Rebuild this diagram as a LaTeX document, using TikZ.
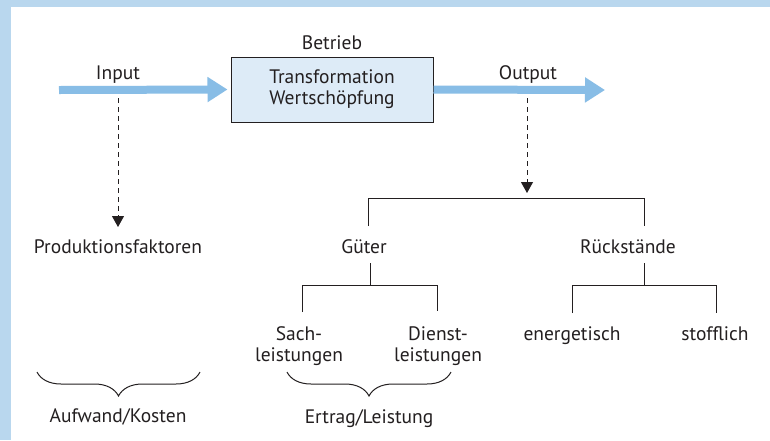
\documentclass[tikz,border=0pt]{standalone}
\usepackage{fontspec}
\setmainfont{PT Sans}
\usetikzlibrary{arrows.meta,decorations.pathreplacing}
\definecolor{band}{HTML}{B9D7EE}
\definecolor{flow}{HTML}{88BDE6}
\definecolor{boxfill}{HTML}{DDEBF7}
\definecolor{ink}{HTML}{231F20}
\begin{document}
\begin{tikzpicture}[x=1pt,y=-1pt,
  lbl/.style={text=ink, font=\fontsize{19.5}{21}\selectfont, inner sep=0pt, align=center},
  procbox/.style={lbl, draw=ink, line width=1pt, fill=boxfill,
    minimum width=202pt, minimum height=65pt},
  flowarrow/.style={draw=flow, line width=8pt, -{Triangle[width=24pt,length=20pt]}},
  droparrow/.style={draw=ink, line width=1pt, dash pattern=on 5pt off 4pt,
    -{Triangle[width=12pt,length=11pt]}},
  tree/.style={draw=ink, line width=1pt},
  bracket/.style={draw=ink, line width=1pt,
    decorate, decoration={brace, mirror, amplitude=24pt}}]
\useasboundingbox (0,0) rectangle (770,440);
% page background with the light frame strips
\fill[white] (0,0) rectangle (770,440);
\fill[band] (0,0) rectangle (770,7);
\fill[band] (0,0) rectangle (11,440);

% production process
\node[procbox] (betrieb) at (332,89.5) {Transformation\\Wertschöpfung};
\node[lbl, anchor=base] (betriebtitel) at (332,49) {Betrieb};

% input / output flows
\coordinate (instart) at (59,90);
\coordinate (outend) at (605,90);
\draw[flowarrow, shorten >=3pt] (instart) -- (betrieb.west);
\draw[flowarrow] (betrieb.east) -- (outend);
\node[lbl, anchor=base] (input) at (118,79) {Input};
\node[lbl, anchor=base] (output) at (528,79) {Output};

% input side
\coordinate (indrop) at (118,98);
\coordinate (intip) at (118,227);
\draw[droparrow] (indrop) -- (intip);
\node[lbl, anchor=base] (prod) at (118,253) {Produktionsfaktoren};

% output side
\coordinate (outdrop) at (527,98);
\coordinate (outtip) at (527,193);
\draw[droparrow] (outdrop) -- (outtip);
\coordinate (gtop) at (368,226);
\coordinate (rtop) at (644,226);
\draw[tree] (gtop) |- (rtop |- 0,198) -- (rtop);

\node[lbl, anchor=base] (gueter) at (364,253) {Güter};
\node[lbl, anchor=base] (rueck) at (628,253) {Rückstände};

% goods branch
\coordinate (gstem) at (370,263);
\coordinate (gleft) at (302,312);
\coordinate (gright) at (437,311);
\draw[tree] (gstem) -- (gstem |- 0,285);
\draw[tree] (gleft) |- (gright |- 0,285) -- (gright);
\node[lbl, anchor=base] (sach) at (299,361) {Sach-\\leistungen};
\node[lbl, anchor=base] (dienst) at (438,361) {Dienst-\\leistungen};

% residue branch
\coordinate (rstem) at (644,263);
\coordinate (rleft) at (572,313);
\coordinate (rright) at (716,313);
\draw[tree] (rstem) -- (rstem |- 0,285);
\draw[tree] (rleft) |- (rright |- 0,285) -- (rright);
\node[lbl, anchor=base] (energ) at (572,340) {energetisch};
\node[lbl, anchor=base] (stoff) at (715,340) {stofflich};

% cost / revenue braces
\coordinate (kl) at (37,372);
\coordinate (kr) at (200,372);
\draw[bracket] (kl) -- (kr);
\node[lbl, anchor=base] (kosten) at (118,422) {Aufwand/Kosten};
\coordinate (el) at (287,372);
\coordinate (er) at (451,372);
\draw[bracket] (el) -- (er);
\node[lbl, anchor=base] (ertrag) at (369,423) {Ertrag/Leistung};
\end{tikzpicture}
\end{document}
